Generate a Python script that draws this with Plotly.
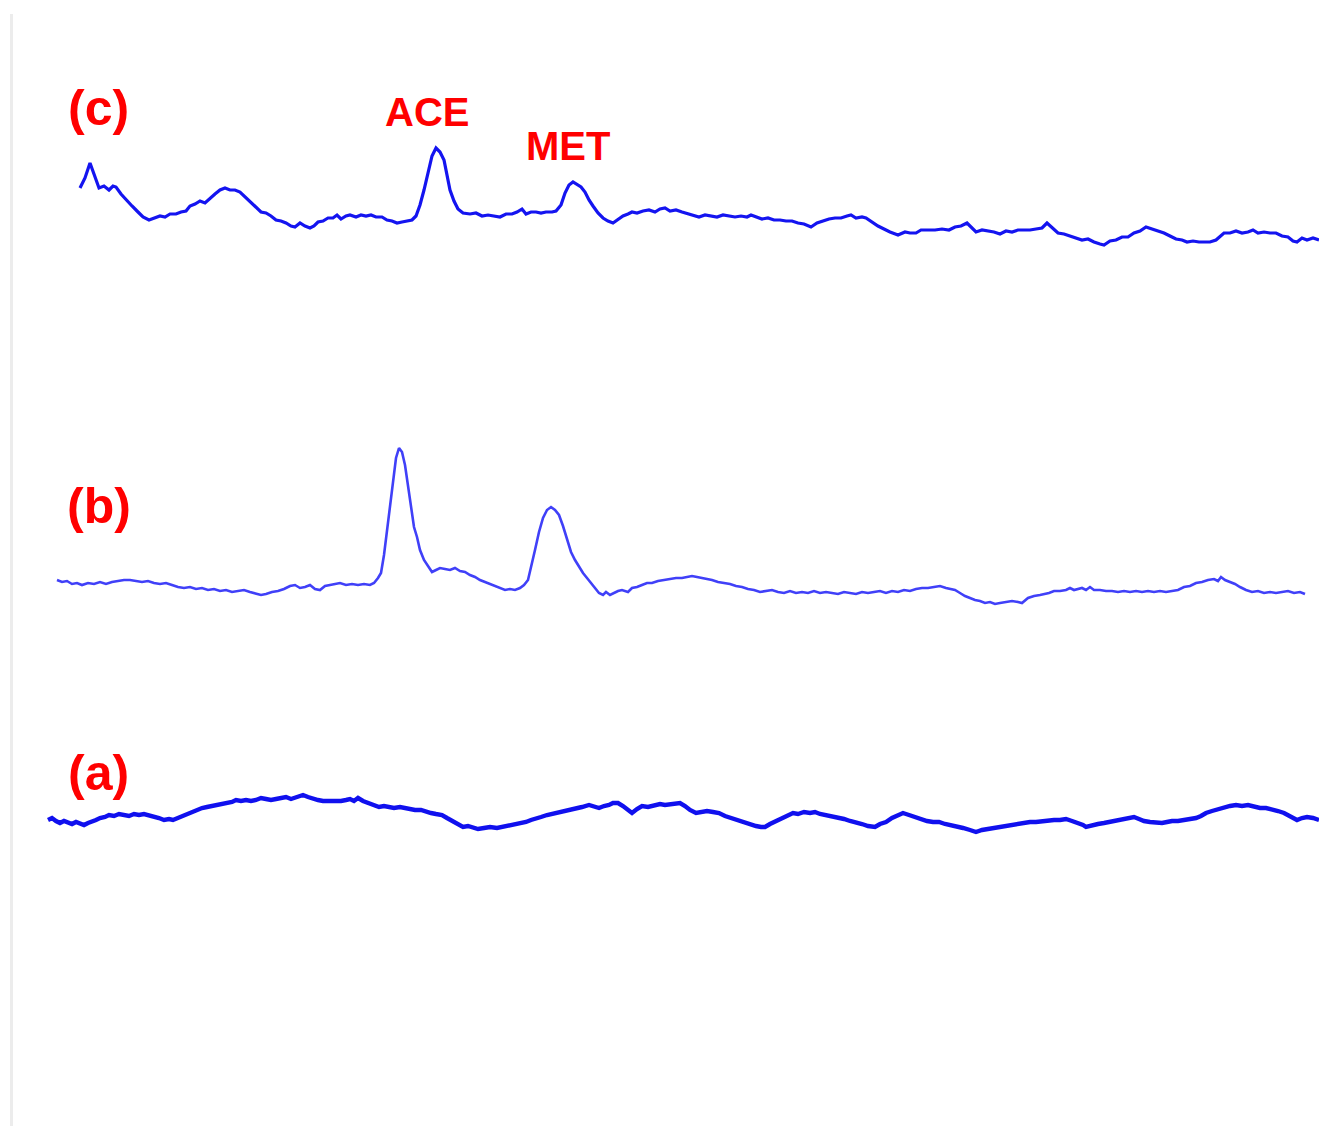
import plotly.graph_objects as go

# ---- data (x = retention position, y = signal position, screen-down positive) ----
c_xy = [
(80,188),(85,178),(90,163),(94,175),(99,188),(104,186),(109,190),(113,186),(116,187),(121,194),
(126,200),(132,206),(138,212),(143,217),(149,220),(155,218),(160,216),(165,217),(170,214),(176,214),
(181,212),(186,211),(190,206),(195,204),(200,201),(205,203),(210,198),(215,194),(220,190),(225,188),
(230,190),(235,190),(240,192),(245,197),(250,202),(256,207),(261,212),(266,213),(271,216),(276,220),
(281,221),(286,223),(291,226),(295,227),(300,223),(305,226),(310,228),(314,226),(318,222),(323,221),
(328,218),(333,218),(337,215),(341,219),(346,216),(350,215),(356,217),(361,215),(366,216),(371,215),
(376,217),(382,217),(387,220),(392,221),(397,223),(402,222),(407,221),(412,220),(416,216),(420,205),
(424,190),(428,172),(432,156),(436,148),(440,152),(444,160),(447,175),(450,190),(454,201),(458,209),
(463,213),(470,214),(476,213),(482,216),(488,215),(494,216),(500,217),(506,214),(512,214),(517,212),
(522,209),(526,214),(531,212),(536,212),(541,213),(546,212),(552,212),(556,211),(561,205),(565,193),
(569,185),(573,182),(577,185),(581,187),(585,192),(589,200),(593,206),(598,213),(603,218),(608,221),
(613,223),(618,219),(623,216),(628,214),(632,212),(637,213),(643,211),(649,210),(655,212),(660,209),
(665,208),(670,211),(676,210),(682,212),(688,214),(693,215),(699,217),(705,215),(711,216),(717,217),
(723,215),(729,216),(735,217),(741,216),(747,217),(751,215),(756,217),(762,219),(768,218),(774,220),
(780,220),(786,221),(792,221),(798,223),(804,224),(811,227),(817,223),(823,221),(829,219),(835,218),
(841,218),(847,216),(851,215),(856,218),(862,217),(866,218),(872,222),(878,226),(884,229),(890,232),
(898,235),(905,232),(910,233),(916,233),(921,230),(928,230),(935,230),(942,229),(949,230),(955,227),
(961,226),(967,223),(972,228),(976,232),(982,230),(988,231),(994,232),(1000,234),(1006,231),(1012,232),
(1018,230),(1024,230),(1030,230),(1036,229),(1042,228),(1047,223),(1052,228),(1058,233),(1064,234),(1070,236),
(1076,238),(1082,240),(1088,239),(1094,242),(1100,244),(1104,245),(1110,241),(1116,240),(1122,237),(1128,237),
(1134,233),(1140,231),(1146,227),(1152,229),(1158,231),(1164,233),(1170,236),(1176,239),(1182,240),(1187,242),
(1193,241),(1199,242),(1205,242),(1210,242),(1216,240),(1220,236),(1224,233),(1230,233),(1236,231),(1242,233),
(1248,232),(1253,230),(1258,233),(1264,232),(1270,233),(1276,233),(1282,236),(1288,237),(1293,241),(1297,242),
(1302,238),(1307,240),(1313,238),(1319,240)]

b_xy = [
(57,580),(62,582),(67,581),(72,584),(77,583),(82,585),(88,583),(94,584),(100,582),(106,584),
(112,582),(118,581),(124,580),(130,580),(136,581),(142,582),(148,581),(154,583),(160,584),(166,583),
(172,585),(178,587),(184,588),(190,587),(196,589),(202,588),(208,590),(214,589),(220,591),(226,590),
(232,592),(238,591),(244,590),(250,592),(256,594),(261,595),(266,594),(272,592),(278,591),(284,589),
(290,586),(295,585),(300,588),(305,587),(310,585),(315,589),(320,590),(325,586),(330,585),(335,584),
(340,583),(346,585),(352,584),(358,585),(364,584),(370,585),(374,583),(378,578),(381,573),(384,555),
(387,530),(390,505),(393,480),(396,458),(399,448),(402,452),(405,465),(408,485),(411,508),(414,527),
(417,537),(420,550),(424,560),(428,566),(432,572),(436,570),(440,568),(445,569),(450,570),(455,568),
(460,571),(465,572),(470,575),(475,577),(480,580),(485,582),(490,584),(495,586),(500,588),(505,590),
(510,589),(515,590),(520,588),(524,585),(528,580),(531,568),(535,550),(539,532),(543,518),(547,510),
(551,507),(555,510),(559,515),(563,526),(567,540),(571,552),(575,560),(579,567),(583,573),(587,578),
(591,583),(595,589),(599,593),(603,595),(606,592),(610,595),(614,593),(618,591),(622,590),(628,592),
(632,588),(637,587),(642,585),(647,583),(652,583),(658,581),(664,580),(670,579),(676,578),(682,578),
(688,577),(692,576),(697,577),(702,578),(707,579),(712,580),(718,582),(724,583),(730,584),(736,586),
(742,587),(748,589),(754,590),(760,592),(766,591),(772,590),(778,592),(784,593),(790,591),(796,593),
(802,592),(808,593),(814,591),(820,593),(826,592),(832,593),(838,594),(844,592),(850,593),(856,594),
(862,592),(868,593),(874,592),(880,591),(886,593),(892,591),(898,592),(904,590),(910,591),(916,589),
(922,588),(928,588),(934,587),(940,586),(946,588),(950,589),(955,590),(960,593),(965,596),(970,598),
(975,600),(980,601),(985,603),(990,602),(995,604),(1000,603),(1006,602),(1012,601),(1018,602),(1022,603),
(1028,598),(1034,596),(1040,595),(1045,594),(1049,593),(1054,591),(1060,591),(1066,590),(1070,588),(1074,590),
(1078,589),(1082,588),(1086,590),(1090,587),(1094,590),(1100,590),(1106,591),(1112,591),(1118,592),(1124,591),
(1130,592),(1136,591),(1142,592),(1148,591),(1154,592),(1160,591),(1166,592),(1172,591),(1178,590),(1184,587),
(1190,586),(1196,583),(1202,582),(1208,580),(1214,579),(1218,581),(1221,577),(1225,580),(1230,582),(1235,584),
(1240,587),(1246,590),(1252,592),(1258,591),(1264,593),(1270,592),(1276,593),(1282,592),(1288,591),(1294,593),
(1300,592),(1305,594)]

a_xy = [
(48,820),(52,818),(56,821),(60,823),(64,821),(68,822),(72,824),(76,822),(80,823),(84,825),
(88,823),(92,822),(96,820),(100,818),(105,817),(109,815),(114,816),(119,814),(124,815),(129,816),
(134,814),(139,815),(144,814),(149,815),(154,816),(159,818),(164,820),(169,819),(173,820),(178,818),
(183,815),(188,813),(193,811),(198,810),(202,808),(207,807),(212,806),(217,805),(222,805),(227,803),
(232,802),(236,800),(241,801),(246,800),(251,801),(256,800),(261,798),(266,799),(271,800),(276,799),
(281,798),(286,797),(291,799),(296,797),(303,795),(308,797),(313,799),(318,800),(323,801),(328,801),
(333,802),(337,802),(341,801),(346,800),(350,799),(354,801),(358,798),(363,801),(368,803),(373,805),
(379,807),(384,806),(389,807),(394,808),(400,807),(405,808),(410,809),(415,810),(421,810),(426,812),
(431,813),(436,814),(442,815),(447,818),(452,821),(457,824),(463,827),(468,826),(473,828),(478,829),
(484,828),(490,827),(497,828),(502,827),(507,826),(512,824),(518,823),(522,822),(526,822),(531,820),
(536,818),(541,817),(547,815),(552,814),(557,813),(562,812),(567,811),(572,810),(577,808),(582,807),
(589,805),(594,807),(599,808),(604,806),(609,805),(613,803),(618,803),(623,806),(628,810),(632,813),
(637,809),(642,806),(648,807),(655,805),(660,804),(665,805),(670,804),(675,803),(680,803),(685,806),
(690,810),(696,813),(701,812),(707,811),(713,812),(719,813),(725,816),(731,818),(736,820),(741,821),
(746,823),(751,824),(756,826),(761,827),(765,827),(770,824),(776,821),(782,819),(787,816),(793,813),
(798,814),(804,812),(810,813),(815,812),(820,814),(826,815),(832,816),(838,817),(844,819),(850,821),
(856,822),(862,824),(868,826),(875,827),(880,824),(886,822),(892,818),(898,815),(903,813),(909,815),
(915,817),(921,820),(927,821),(933,822),(939,822),(945,824),(951,825),(957,826),(963,828),(970,830),
(976,832),(982,830),(988,829),(994,828),(1000,827),(1006,826),(1012,825),(1018,823),(1024,823),(1030,822),
(1036,822),(1042,821),(1048,821),(1054,820),(1060,820),(1066,819),(1072,821),(1078,823),(1083,825),(1086,827),
(1092,825),(1098,824),(1104,823),(1110,822),(1116,820),(1122,819),(1128,818),(1134,817),(1139,819),(1144,821),
(1150,822),(1156,823),(1162,823),(1167,822),(1172,821),(1178,821),(1184,820),(1190,819),(1196,818),(1201,816),
(1206,813),(1212,811),(1218,809),(1224,808),(1230,806),(1236,805),(1242,806),(1248,805),(1254,807),(1260,808),
(1266,808),(1272,809),(1278,811),(1284,813),(1290,816),(1294,819),(1297,820),(1302,818),(1307,817),(1313,818),
(1319,820)]

trace_labels = ["(c)", "(b)", "(a)"]
label_pos = [(98, 108), (99, 506), (98, 773)]
peak_labels = ["ACE", "MET"]
peak_label_pos = [(427, 112), (568, 146)]

W, H = 1319, 1126

fig = go.Figure()
styles = [
    (c_xy, "#1414f0", 3.2),
    (b_xy, "#4040f8", 2.6),
    (a_xy, "#1010ee", 4.4),
]
for xy, col, w in styles:
    fig.add_trace(go.Scatter(
        x=[p[0] for p in xy], y=[p[1] for p in xy],
        mode="lines", line=dict(color=col, width=w, shape="linear"),
        hoverinfo="skip", showlegend=False))

for t, (x, y) in zip(trace_labels, label_pos):
    fig.add_annotation(x=x, y=y, text="<b>" + t + "</b>", showarrow=False, xref="x", yref="y",
                       font=dict(family="Liberation Sans, Arial", size=50, color="#ff0000"),
                       xanchor="center", yanchor="middle")
for t, (x, y) in zip(peak_labels, peak_label_pos):
    fig.add_annotation(x=x, y=y, text="<b>" + t + "</b>", showarrow=False, xref="x", yref="y",
                       font=dict(family="Liberation Sans, Arial", size=40, color="#ff0000"),
                       xanchor="center", yanchor="middle")

# thin light-grey left frame line
fig.add_shape(type="line", xref="x", yref="y", x0=11.5, x1=11.5, y0=14, y1=H,
              line=dict(color="#ececec", width=3))

fig.update_xaxes(range=[0, W], visible=False, fixedrange=True)
fig.update_yaxes(range=[H, 0], visible=False, fixedrange=True)
fig.update_layout(width=W, height=H, margin=dict(l=0, r=0, t=0, b=0),
                  paper_bgcolor="white", plot_bgcolor="white")

fig.write_html("out.html", config={"displayModeBar": False},
               post_script="document.body.style.margin='0';document.body.style.overflow='hidden';")
